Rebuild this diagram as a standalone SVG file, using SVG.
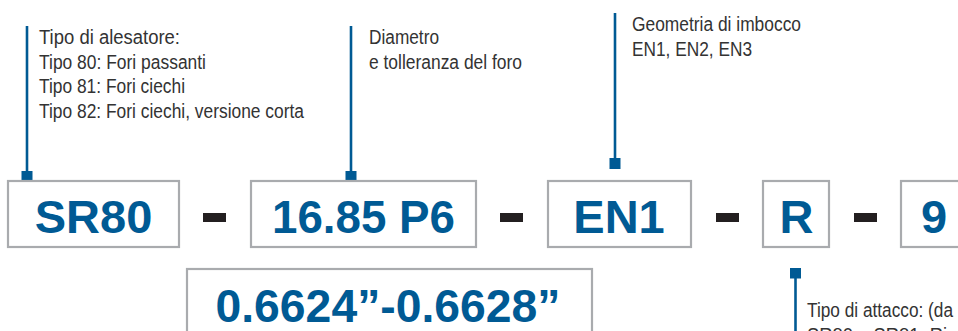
<svg xmlns="http://www.w3.org/2000/svg" width="958" height="331" viewBox="0 0 958 331">
<style>
.box{fill:#fff;stroke:#a9abae;stroke-width:2.2}
.code{font-family:"Liberation Sans",Arial,sans-serif;font-weight:bold;font-size:47px;fill:#005a94;text-anchor:middle}
.dash{fill:#231f20}
.lbl{font-family:"Liberation Sans",Arial,sans-serif;font-size:19.5px;fill:#333}
.lead{stroke:#005a94;stroke-width:2.6;fill:none}
.tip{fill:#005a94}
</style>
<rect width="958" height="331" fill="#fff"/>
<g id="connectors">
<line class="lead" x1="27" y1="26" x2="27" y2="172"/>
<rect class="tip" x="21.5" y="171" width="11" height="11"/>
<line class="lead" x1="351" y1="26" x2="351" y2="172"/>
<rect class="tip" x="345.5" y="171" width="11" height="11"/>
<line class="lead" x1="615" y1="13" x2="615" y2="159"/>
<rect class="tip" x="609.5" y="158" width="11" height="11"/>
<line class="lead" x1="795.5" y1="277" x2="795.5" y2="331"/>
<rect class="tip" x="790" y="268" width="11" height="10.5"/>
</g>
<g id="label-tipo">
<text class="lbl" x="39" y="44" textLength="141" lengthAdjust="spacingAndGlyphs">Tipo di alesatore:</text>
<text class="lbl" x="39" y="68.7" textLength="167" lengthAdjust="spacingAndGlyphs">Tipo 80: Fori passanti</text>
<text class="lbl" x="39" y="93.4" textLength="146" lengthAdjust="spacingAndGlyphs">Tipo 81: Fori ciechi</text>
<text class="lbl" x="39" y="118" textLength="265" lengthAdjust="spacingAndGlyphs">Tipo 82: Fori ciechi, versione corta</text>
</g>
<g id="label-diametro">
<text class="lbl" x="369" y="44" textLength="70" lengthAdjust="spacingAndGlyphs">Diametro</text>
<text class="lbl" x="369" y="69" textLength="153" lengthAdjust="spacingAndGlyphs">e tolleranza del foro</text>
</g>
<g id="label-geometria">
<text class="lbl" x="632" y="31" textLength="169" lengthAdjust="spacingAndGlyphs">Geometria di imbocco</text>
<text class="lbl" x="632" y="56" textLength="120" lengthAdjust="spacingAndGlyphs">EN1, EN2, EN3</text>
</g>
<g id="label-attacco">
<text class="lbl" x="807" y="317" textLength="146" lengthAdjust="spacingAndGlyphs">Tipo di attacco: (da</text>
<text class="lbl" x="807" y="342" textLength="140" lengthAdjust="spacingAndGlyphs">SR80 e SR81: Ri</text>
</g>
<g id="node-sr80">
<rect class="box" x="8" y="181" width="171" height="66"/>
<text class="code" x="93.5" y="233">SR80</text>
</g>
<rect class="dash" x="203" y="213" width="23" height="9"/>
<g id="node-diametro">
<rect class="box" x="251" y="181" width="225" height="66"/>
<text class="code" x="363.5" y="233" textLength="183" lengthAdjust="spacingAndGlyphs">16.85 P6</text>
</g>
<rect class="dash" x="500" y="213" width="23" height="9"/>
<g id="node-en1">
<rect class="box" x="548" y="181" width="143" height="66"/>
<text class="code" x="619" y="233">EN1</text>
</g>
<rect class="dash" x="716" y="213" width="23" height="9"/>
<g id="node-r">
<rect class="box" x="763" y="181" width="66" height="66"/>
<text class="code" x="796.5" y="233">R</text>
</g>
<rect class="dash" x="854" y="213" width="23" height="9"/>
<g id="node-9">
<rect class="box" x="901" y="181" width="66" height="66"/>
<text class="code" x="934" y="233">9</text>
</g>
<g id="node-pollici">
<rect class="box" x="187" y="269" width="405" height="80"/>
<text class="code" x="388" y="322" textLength="345" lengthAdjust="spacingAndGlyphs">0.6624”-0.6628”</text>
</g>
</svg>
